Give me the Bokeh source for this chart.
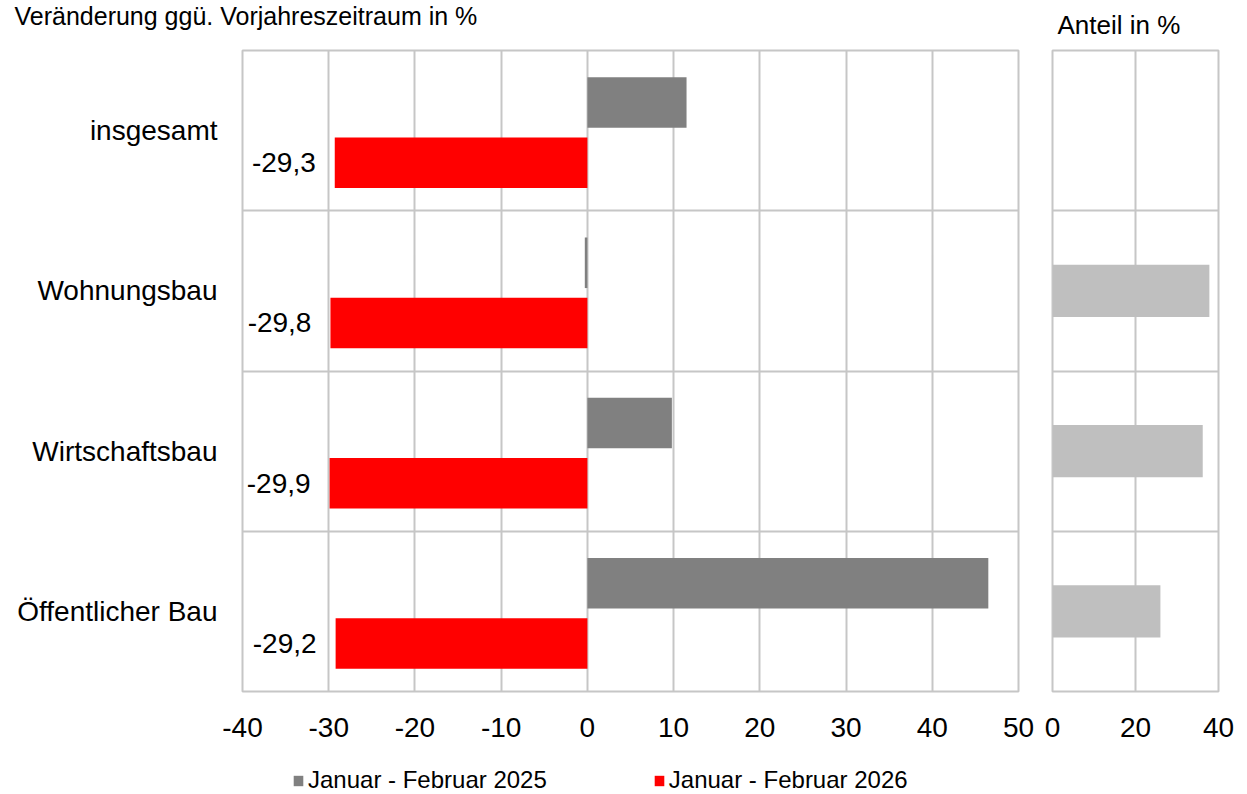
from bokeh.plotting import figure
from bokeh.layouts import row, column
from bokeh.models import Range1d, FixedTicker, Legend, LegendItem, ColumnDataSource, Label
from bokeh.transform import dodge
from bokeh.embed import file_html
from bokeh.resources import INLINE

# ---------------- data ----------------
categories = ["insgesamt", "Wohnungsbau", "Wirtschaftsbau", "Öffentlicher Bau"]
change_2025 = [11.5, -0.3, 9.8, 46.5]
change_2026 = [-29.3, -29.8, -29.9, -29.2]
share_categories = ["Wohnungsbau", "Wirtschaftsbau", "Öffentlicher Bau"]
share = [37.8, 36.2, 26.0]
series_labels = ["Januar - Februar 2025", "Januar - Februar 2026"]
main_ticks = [-40, -30, -20, -10, 0, 10, 20, 30, 40, 50]
share_ticks = [0, 20, 40]
title_main = "Veränderung ggü. Vorjahreszeitraum in %"
title_share = "Anteil in %"

# ---------------- style ----------------
FONT = "Liberation Sans"
GRID = "#c6c6c6"
C2025 = "#808080"
C2026 = "#ff0000"
CSHARE = "#bfbfbf"
H = 756
TOP = 50
FRAME_H = 641
LEG_H = 36

n = len(categories)
ypos = [i + 0.5 for i in range(n)]
labels_2026 = [("%.1f" % v).replace(".", ",") for v in change_2026]

src = ColumnDataSource(dict(y=ypos, cat=categories, v25=change_2025, v26=change_2026, lab=labels_2026))
share_src = ColumnDataSource(dict(y=[categories.index(c) + 0.5 for c in share_categories], v=share))


def style(p, ticks):
    p.outline_line_color = GRID
    p.outline_line_width = 2
    p.xgrid.ticker = FixedTicker(ticks=ticks)
    p.ygrid.ticker = FixedTicker(ticks=list(range(n + 1)))
    for g in (p.xgrid, p.ygrid):
        g.grid_line_color = GRID
        g.grid_line_width = 2
    ax = p.xaxis[0]
    ax.ticker = FixedTicker(ticks=ticks)
    ax.major_label_overrides = {t: str(t) for t in ticks}
    ax.axis_line_color = None
    ax.major_tick_line_color = None
    ax.minor_tick_line_color = None
    ax.major_tick_out = 0
    ax.minor_tick_out = 0
    ax.major_label_standoff = 26
    ax.major_label_text_font = FONT
    ax.major_label_text_font_size = "28px"
    ax.major_label_text_color = "black"
    p.background_fill_color = "white"
    p.border_fill_color = "white"


p1 = figure(width=1034, height=H, x_range=Range1d(-40, 50), y_range=Range1d(n, 0),
            output_backend="svg", toolbar_location=None,
            min_border_left=242, min_border_right=16, min_border_top=TOP,
            min_border_bottom=H - TOP - FRAME_H)
style(p1, main_ticks)

ya = p1.yaxis[0]
ya.ticker = FixedTicker(ticks=ypos)
ya.major_label_overrides = {y: c for y, c in zip(ypos, categories)}
ya.axis_line_color = None
ya.major_tick_line_color = None
ya.minor_tick_line_color = None
ya.major_tick_out = 0
ya.minor_tick_out = 0
ya.major_label_standoff = 25
ya.major_label_text_font = FONT
ya.major_label_text_font_size = "28px"
ya.major_label_text_color = "black"

p1.hbar(y=dodge("y", -0.175, range=p1.y_range), left=0, right="v25", height=0.315,
        source=src, fill_color=C2025, line_color=None)
p1.hbar(y=dodge("y", 0.2, range=p1.y_range), left=0, right="v26", height=0.315,
        source=src, fill_color=C2026, line_color=None)
p1.text(x="v26", y=dodge("y", 0.2, range=p1.y_range), text="lab", source=src,
        x_offset=-19, text_align="right", text_baseline="middle",
        text_font={"value": FONT}, text_font_size="28px", text_color="black")

p1.add_layout(Label(x=-228, y=34.5, x_units="screen", y_units="screen", text=title_main,
                    text_font=FONT, text_font_size="25px", text_baseline="middle",
                    text_color="black"), "above")

p2 = figure(width=204, height=H, x_range=Range1d(0, 40), y_range=Range1d(n, 0),
            output_backend="svg", toolbar_location=None, y_axis_location=None,
            min_border_left=18, min_border_right=20, min_border_top=TOP,
            min_border_bottom=H - TOP - FRAME_H)
style(p2, share_ticks)
p2.hbar(y="y", left=0, right="v", height=0.325, source=share_src,
        fill_color=CSHARE, line_color=None)
p2.add_layout(Label(x=5, y=25.5, x_units="screen", y_units="screen", text=title_share,
                    text_font=FONT, text_font_size="26px", text_baseline="middle",
                    text_color="black"), "above")

# legend strip below both panels (series renderers kept outside its visible range)
lf = figure(width=1238, height=LEG_H, output_backend="svg", toolbar_location=None,
            x_axis_location=None, y_axis_location=None, min_border=0,
            outline_line_color=None, x_range=Range1d(-40, 50), y_range=Range1d(100, 101))
lf.xgrid.visible = False
lf.ygrid.visible = False
lr25 = lf.hbar(y="y", left=0, right="v25", height=0.315, source=src,
               fill_color=C2025, line_color=None)
lr26 = lf.hbar(y="y", left=0, right="v26", height=0.315, source=src,
               fill_color=C2026, line_color=None)
legend = Legend(items=[LegendItem(label=series_labels[0], renderers=[lr25]),
                       LegendItem(label=series_labels[1], renderers=[lr26])],
                orientation="horizontal", location=(292, -2),
                border_line_color=None, background_fill_alpha=0,
                padding=0, margin=0, spacing=106,
                glyph_width=12, glyph_height=13, label_standoff=4,
                label_text_font=FONT, label_text_font_size="24px", label_text_color="black")
lf.add_layout(legend)

layout = column(row(p1, p2), lf)
open("out.html", "w").write(file_html(layout, INLINE))
